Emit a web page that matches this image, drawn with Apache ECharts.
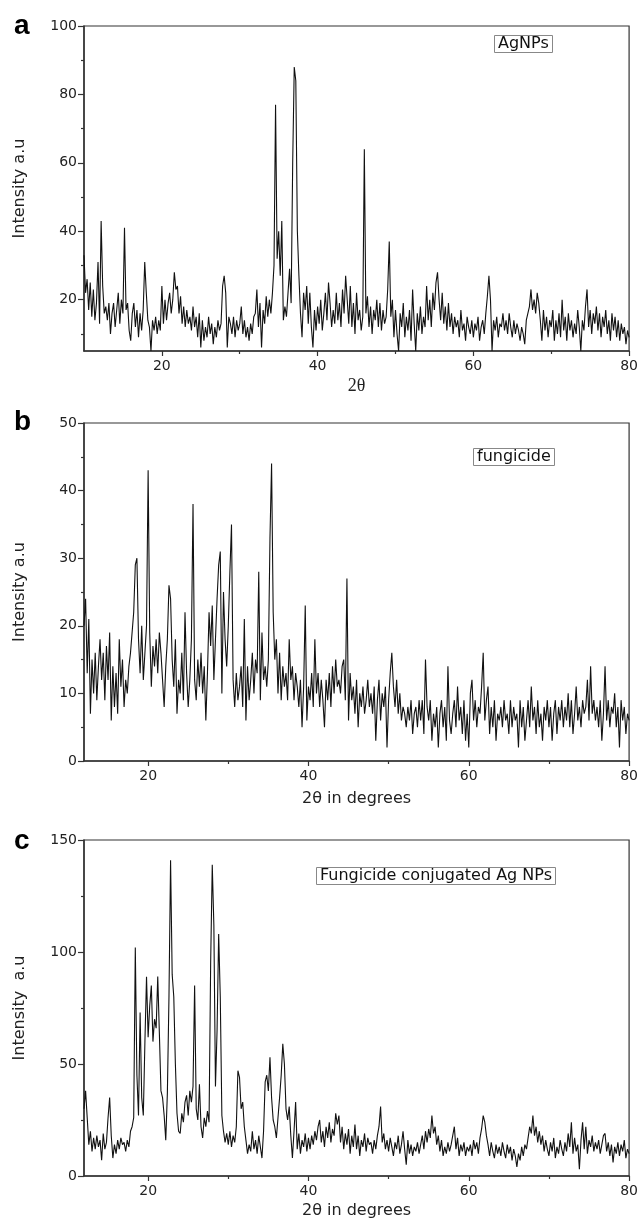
<!DOCTYPE html>
<html>
<head>
    <meta http-equiv="Content-Type" content="text/html; charset=utf-8" />
    <style type="text/css">
        body, html, #chart {width: 641px; height: 1220px; overflow: hidden; margin: 0; background: #fff;}
    </style>
    <title>XRD</title>
</head>
<body>
<div id="chart"></div>
<script src="https://cdn.jsdelivr.net/npm/echarts@6.0.0/dist/echarts.min.js"></script>
<script type="text/javascript">
    // 2theta sampling: start value and step (degrees)
    var step = 0.2;
    var agStart = 10;
    var fgStart = 12;
    var cjStart = 12;

    // (a) AgNPs, one row = 2 degrees
    var agNPs = [
        33, 22, 26, 17, 25, 15, 23, 14, 19, 31,
        13, 43, 24, 16, 18, 14, 19, 10, 16, 19,
        12, 17, 22, 13, 20, 16, 41, 17, 19, 11,
        8, 16, 19, 12, 17, 9, 16, 11, 17, 31,
        22, 14, 12, 5, 14, 11, 15, 10, 14, 11,
        24, 13, 20, 14, 19, 22, 16, 20, 28, 23,
        24, 16, 21, 13, 18, 12, 17, 13, 15, 11,
        18, 12, 15, 9, 16, 6, 14, 8, 12, 9,
        15, 10, 13, 7, 12, 9, 14, 11, 13, 24,
        27, 22, 6, 15, 13, 10, 15, 9, 14, 11,
        13, 18, 10, 14, 9, 12, 8, 13, 10, 15,
        16, 23, 12, 19, 6, 17, 13, 21, 15, 20,
        16, 22, 30, 77, 32, 40, 27, 43, 14, 18,
        15, 22, 29, 19, 60, 88, 84, 40, 27, 16,
        9, 22, 17, 24, 13, 22, 12, 6, 17, 11,
        18, 13, 20, 11, 16, 22, 14, 25, 19, 12,
        17, 13, 22, 14, 19, 12, 23, 16, 27, 20,
        13, 24, 12, 19, 10, 22, 14, 17, 11, 15,
        64, 16, 21, 12, 18, 10, 17, 14, 20, 12,
        19, 11, 17, 13, 15, 23, 37, 15, 20, 9,
        17, 10, 5, 16, 12, 19, 9, 15, 11, 17,
        8, 23, 13, 5, 16, 11, 18, 10, 15, 12,
        24, 14, 20, 12, 22, 17, 25, 28, 20, 14,
        22, 13, 18, 11, 19, 12, 16, 10, 15, 12,
        14, 9, 17, 11, 13, 8, 15, 12, 10, 14,
        9, 13, 11, 15, 8, 12, 14, 10, 16, 21,
        27, 20, 5, 14, 11, 15, 9, 13, 12, 16,
        11, 14, 10, 16, 12, 9, 14, 10, 13, 11,
        8, 12, 10, 7, 14, 16, 18, 23, 17, 20,
        16, 22, 19, 14, 8, 17, 11, 15, 9, 14,
        12, 17, 8, 14, 10, 16, 9, 20, 11, 15,
        8, 16, 11, 14, 9, 13, 10, 17, 12, 5,
        14, 11, 18, 23, 12, 17, 10, 16, 13, 18,
        11, 16, 9, 15, 12, 17, 10, 14, 8, 16,
        11, 15, 9, 14, 8, 13, 10, 12, 7, 11,
        9
    ];

    // (b) fungicide
    var fungicide = [
        20, 24, 13, 21, 7, 15, 10, 16, 9, 14,
        18, 12, 16, 9, 17, 12, 19, 6, 14, 8,
        13, 7, 18, 11, 15, 8, 12, 10, 14, 16,
        16, 22, 29, 30, 18, 13, 20, 12, 16, 20,
        43, 19, 11, 17, 14, 18, 13, 19, 16, 12,
        8, 14, 18, 26, 24, 15, 11, 18, 7, 12,
        10, 16, 9, 22, 13, 8, 12, 18, 38, 12,
        9, 15, 11, 16, 10, 14, 6, 13, 22, 17,
        23, 12, 18, 24, 29, 31, 10, 25, 18, 14,
        20, 28, 35, 12, 8, 13, 9, 11, 14, 8,
        21, 6, 14, 9, 12, 16, 10, 15, 13, 28,
        9, 19, 12, 14, 11, 15, 33, 44, 22, 15,
        18, 10, 16, 9, 14, 11, 13, 9, 18, 12,
        14, 9, 13, 11, 8, 12, 5, 11, 23, 6,
        11, 9, 13, 8, 18, 10, 13, 8, 12, 9,
        5, 12, 9, 13, 8, 14, 10, 15, 11, 12,
        10, 14, 15, 9, 27, 6, 13, 9, 11, 7,
        12, 5, 10, 8, 11, 7, 9, 12, 8, 10,
        7, 11, 3, 9, 12, 6, 10, 8, 11, 2,
        9, 13, 16, 11, 8, 12, 7, 10, 6, 8,
        7, 5, 8, 6, 9, 4, 7, 8, 5, 9,
        6, 9, 4, 15, 8, 6, 9, 3, 7, 5,
        8, 2, 7, 9, 5, 8, 3, 14, 6, 4,
        7, 9, 5, 11, 6, 8, 4, 9, 3, 7,
        2, 10, 12, 6, 9, 5, 8, 7, 11, 16,
        6, 9, 11, 4, 8, 5, 9, 3, 7, 6,
        8, 5, 9, 6, 7, 4, 9, 5, 8, 6,
        7, 2, 9, 5, 8, 3, 6, 9, 5, 11,
        6, 8, 4, 9, 5, 7, 3, 8, 6, 9,
        5, 8, 3, 7, 9, 4, 8, 6, 9, 5,
        8, 6, 10, 5, 9, 4, 7, 11, 6, 8,
        5, 9, 7, 8, 12, 6, 14, 7, 9, 6,
        8, 5, 9, 3, 7, 14, 6, 9, 5, 8,
        7, 10, 5, 8, 2, 9, 6, 8, 4, 7,
        6
    ];

    // (c) fungicide conjugated Ag NPs
    var conjugated = [
        30, 38, 26, 14, 20, 11, 17, 12, 18, 13,
        16, 7, 19, 12, 15, 26, 35, 18, 8, 14,
        10, 16, 12, 17, 14, 15, 11, 16, 13, 20,
        22, 26, 102, 45, 27, 73, 35, 27, 60, 89,
        62, 76, 85, 60, 70, 66, 89, 64, 38, 35,
        27, 16, 37, 80, 141, 90, 80, 50, 28, 20,
        19, 28, 24, 33, 36, 27, 38, 33, 40, 85,
        30, 25, 41, 22, 17, 26, 22, 29, 24, 95,
        139, 112, 40, 65, 108, 80, 27, 20, 15, 19,
        14, 20, 13, 18, 15, 22, 47, 44, 30, 33,
        22, 16, 10, 14, 11, 20, 12, 16, 10, 18,
        13, 8, 20, 42, 45, 38, 53, 35, 25, 22,
        17, 26, 35, 45, 59, 50, 30, 25, 31, 18,
        8, 20, 33, 12, 19, 10, 16, 13, 19, 11,
        17, 12, 18, 14, 20, 16, 22, 25, 15, 20,
        13, 22, 17, 24, 15, 21, 18, 28, 23, 27,
        15, 22, 12, 19, 14, 21, 10, 18, 13, 23,
        12, 18, 9, 16, 13, 19, 11, 17, 14, 15,
        10, 16, 12, 18, 22, 31, 15, 19, 12, 16,
        11, 17, 13, 9, 15, 12, 18, 10, 14, 20,
        12, 5, 16, 10, 14, 9, 13, 11, 15, 10,
        14, 18, 12, 20, 15, 21, 17, 27, 19, 22,
        14, 18, 11, 16, 9, 13, 10, 15, 11, 14,
        14, 22, 12, 17, 9, 14, 11, 15, 9, 13,
        11, 14, 9, 16, 12, 15, 10, 17, 21, 27,
        24, 18, 14, 9, 15, 11, 8, 14, 10, 13,
        9, 15, 11, 8, 14, 10, 13, 7, 12, 9,
        4, 10, 7, 13, 9, 14, 12, 17, 22, 19,
        27, 18, 22, 15, 20, 14, 18, 11, 16, 12,
        9, 15, 11, 17, 8, 13, 10, 16, 12, 9,
        15, 11, 19, 13, 24, 10, 17, 11, 14, 3,
        16, 24, 12, 22, 10, 16, 13, 18, 11, 15,
        12, 16, 10, 14, 18, 19, 11, 15, 9, 14,
        6, 13, 10, 15, 9, 14, 11, 16, 8, 12,
        10
    ];

    // tick values
    var xMajor = [20, 40, 60, 80];
    var xMinor = [30, 50, 70];
    var agYMajor = [20, 40, 60, 80, 100];
    var agYMinor = [10, 30, 50, 70, 90];
    var fgYMajor = [0, 10, 20, 30, 40, 50];
    var fgYMinor = [5, 15, 25, 35, 45];
    var cjYMajor = [0, 50, 100, 150];
    var cjYMinor = [25, 75, 125];

    var legendNames = ['AgNPs', 'fungicide', 'Fungicide conjugated Ag NPs'];
    var panelLetters = ['a', 'b', 'c'];

    function pairs(start, ys) {
        return ys.map(function (y, i) {
            return [+(start + i * step).toFixed(1), y];
        });
    }

    var font = 'DejaVu Sans';
    var axisColor = '#333';

    function mainX(g, min, name, nameGap, nameFont) {
        return {
            type: 'value', gridIndex: g, position: 'bottom', min: min, max: 80,
            name: name, nameLocation: 'middle', nameGap: nameGap,
            nameTextStyle: {fontFamily: nameFont.family, fontSize: nameFont.size, color: '#222'},
            axisLine: {show: true, lineStyle: {color: axisColor, width: 1.5}},
            axisTick: {show: true, customValues: xMajor, length: 5, lineStyle: {color: axisColor, width: 1.2}},
            axisLabel: {customValues: xMajor, margin: 8, fontFamily: font, fontSize: 14, color: '#222'},
            splitLine: {show: false}
        };
    }
    function minorX(g, min) {
        return {
            type: 'value', gridIndex: g, position: 'bottom', min: min, max: 80,
            axisLine: {show: false},
            axisTick: {show: true, customValues: xMinor, length: 3, lineStyle: {color: axisColor, width: 1.2}},
            axisLabel: {show: false},
            splitLine: {show: false}
        };
    }
    function mainY(g, min, max, major) {
        return {
            type: 'value', gridIndex: g, position: 'left', min: min, max: max,
            name: g === 2 ? 'Intensity  a.u' : 'Intensity a.u',
            nameLocation: 'middle', nameGap: 56,
            nameTextStyle: {fontFamily: font, fontSize: 16, color: '#222'},
            axisLine: {show: true, lineStyle: {color: axisColor, width: 1.5}},
            axisTick: {show: true, customValues: major, length: 6, lineStyle: {color: axisColor, width: 1.2}},
            axisLabel: {customValues: major, margin: 7, fontFamily: font, fontSize: 14, color: '#222'},
            splitLine: {show: false}
        };
    }
    function minorY(g, min, max, minor) {
        return {
            type: 'value', gridIndex: g, position: 'left', min: min, max: max,
            axisLine: {show: false},
            axisTick: {show: true, customValues: minor, length: 3, lineStyle: {color: axisColor, width: 1.2}},
            axisLabel: {show: false},
            splitLine: {show: false}
        };
    }

    var gridBox = {show: true, borderColor: axisColor, borderWidth: 1.2, backgroundColor: 'transparent'};

    var chart = echarts.init(document.getElementById('chart'));
    chart.setOption({
        animation: false,
        title: [
            {text: panelLetters[0], left: 9, top: 7, textStyle: {fontFamily: 'Liberation Sans', fontSize: 28, fontWeight: 'bold', color: '#000'}},
            {text: panelLetters[1], left: 9, top: 403, textStyle: {fontFamily: 'Liberation Sans', fontSize: 28, fontWeight: 'bold', color: '#000'}},
            {text: panelLetters[2], left: 9, top: 822, textStyle: {fontFamily: 'Liberation Sans', fontSize: 28, fontWeight: 'bold', color: '#000'}},
            {text: legendNames[0], left: 494, top: 35, padding: [1, 4], borderColor: '#888', borderWidth: 1,
                textStyle: {fontFamily: font, fontSize: 16, fontWeight: 'normal', color: '#111', lineHeight: 16}},
            {text: legendNames[1], left: 473, top: 448, padding: [1, 4], borderColor: '#888', borderWidth: 1,
                textStyle: {fontFamily: font, fontSize: 16, fontWeight: 'normal', color: '#111', lineHeight: 16}},
            {text: legendNames[2], left: 316, top: 867, padding: [1, 4], borderColor: '#888', borderWidth: 1,
                textStyle: {fontFamily: font, fontSize: 16, fontWeight: 'normal', color: '#111', lineHeight: 16}}
        ],
        grid: [
            Object.assign({left: 84, right: 9, top: 26, height: 325}, gridBox),
            Object.assign({left: 84, right: 9, top: 423, height: 338}, gridBox),
            Object.assign({left: 84, right: 9, top: 840, height: 336}, gridBox)
        ],
        xAxis: [
            mainX(0, agStart, '2θ', 26, {family: 'Liberation Serif', size: 18}),
            mainX(1, fgStart, '2θ in degrees', 30, {family: font, size: 16}),
            mainX(2, cjStart, '2θ in degrees', 27, {family: font, size: 16}),
            minorX(0, agStart),
            minorX(1, fgStart),
            minorX(2, cjStart)
        ],
        yAxis: [
            mainY(0, 5, 100, agYMajor),
            mainY(1, 0, 50, fgYMajor),
            mainY(2, 0, 150, cjYMajor),
            minorY(0, 5, 100, agYMinor),
            minorY(1, 0, 50, fgYMinor),
            minorY(2, 0, 150, cjYMinor)
        ],
        series: [
            {name: legendNames[0], type: 'line', xAxisIndex: 0, yAxisIndex: 0, showSymbol: false,
                lineStyle: {color: '#111', width: 1.1}, data: pairs(agStart, agNPs)},
            {name: legendNames[1], type: 'line', xAxisIndex: 1, yAxisIndex: 1, showSymbol: false,
                lineStyle: {color: '#111', width: 1.1}, data: pairs(fgStart, fungicide)},
            {name: legendNames[2], type: 'line', xAxisIndex: 2, yAxisIndex: 2, showSymbol: false,
                lineStyle: {color: '#111', width: 1.1}, data: pairs(cjStart, conjugated)}
        ]
    });
</script>
</body>
</html>
